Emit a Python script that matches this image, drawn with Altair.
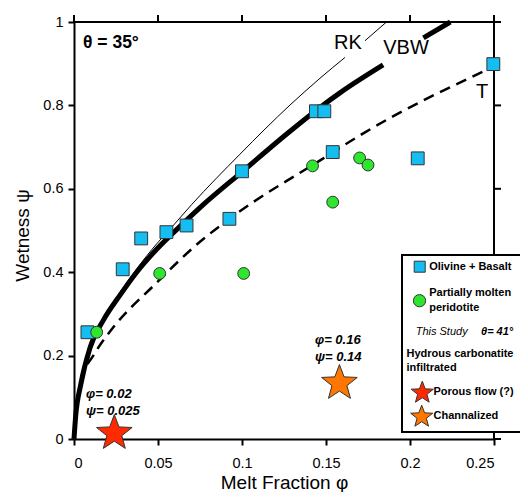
import math
import altair as alt
import pandas as pd

# ---------------- data ----------------
x_ticks = [0, 0.05, 0.1, 0.15, 0.2, 0.25]
y_ticks = [0, 0.2, 0.4, 0.6, 0.8, 1.0]

blue_phi = [0.008, 0.029, 0.040, 0.055, 0.067, 0.0925, 0.100, 0.144, 0.149, 0.154, 0.2046, 0.2496]
blue_psi = [0.256, 0.407, 0.481, 0.496, 0.512, 0.528, 0.642, 0.786, 0.786, 0.688, 0.673, 0.899]

green_phi = [0.0135, 0.051, 0.101, 0.142, 0.154, 0.170, 0.175]
green_psi = [0.256, 0.397, 0.397, 0.655, 0.568, 0.674, 0.657]

star_phi = [0.024, 0.158]
star_psi = [0.018, 0.138]
star_kind = ["Porous flow (?)", "Channalized"]

# VBW curve (two pieces, gap behind its label)
vbw_phi = [0.0, 0.001, 0.004, 0.0095, 0.0175, 0.0274, 0.0373, 0.0492, 0.0631, 0.075, 0.1004,
           0.1286, 0.1464, 0.1583, 0.184, 0.208, 0.224]
vbw_psi = [0.0, 0.055, 0.13, 0.218, 0.285, 0.345, 0.40, 0.455, 0.51, 0.555, 0.642,
           0.738, 0.795, 0.83, 0.897, 0.962, 1.0]
vbw_seg = [1] * 15 + [2] * 2

# RK curve (two pieces, gap behind its label)
rk_phi = [0.0, 0.001, 0.004, 0.0095, 0.0175, 0.0274, 0.0373, 0.0492, 0.0571, 0.070, 0.0988,
          0.1286, 0.1464, 0.1613, 0.1732, 0.186]
rk_psi = [0.0, 0.056, 0.132, 0.222, 0.29, 0.352, 0.408, 0.468, 0.503, 0.562, 0.683,
          0.801, 0.865, 0.915, 0.955, 1.0]
rk_seg = [1] * 14 + [2] * 2

# T curve (dashed)
t_phi = [0.008, 0.0115, 0.0135, 0.0234, 0.0472, 0.075, 0.0925, 0.1484, 0.1722, 0.2476]
t_psi = [0.18, 0.20, 0.213, 0.268, 0.367, 0.473, 0.528, 0.673, 0.733, 0.889]

# ---------------- styling ----------------
FONT = "Liberation Sans"
BLUE = "#14BEF0"
GREEN = "#2EE62E"
RED = "#FF2A00"
ORANGE = "#FF7600"
EDGE = "#333333"
W, H = 420, 417


def star_path(inner=0.42):
    pts = []
    for k in range(10):
        r = 1.0 if k % 2 == 0 else inner
        a = -math.pi / 2 + k * math.pi / 5
        pts.append((r * math.cos(a), r * math.sin(a) + 0.095))
    return "M" + "L".join(f"{px:.4f},{py:.4f}" for px, py in pts) + "Z"


STAR = star_path()

xs = alt.Scale(domain=[0, 0.25], nice=False, zero=False)
ys = alt.Scale(domain=[0, 1], nice=False, zero=False)

common_axis = dict(
    domainColor="black", domainWidth=2, tickColor="black", tickWidth=2,
    labelFont=FONT, labelFontSize=14.5, labelColor="black",
    titleFont=FONT, titleFontSize=19, titleFontWeight="normal", titleColor="black",
    grid=False,
)

ax_bottom = alt.Axis(orient="bottom", values=x_ticks, format="~g", tickSize=6,
                     labelPadding=18, labelBaseline="middle", title="Melt Fraction φ",
                     titleX=210, titleY=49, titleAlign="center", titleBaseline="alphabetic",
                     **common_axis)
ax_left = alt.Axis(orient="left", values=y_ticks, format="~g", tickSize=6,
                   labelPadding=5, title="Wetness ψ", titleX=-52, titleY=213,
                   titleAngle=270, titleAlign="center", titleBaseline="middle",
                   **common_axis)

curves = pd.concat([
    pd.DataFrame({"phi": vbw_phi, "psi": vbw_psi, "seg": vbw_seg, "curve": "VBW"}),
    pd.DataFrame({"phi": rk_phi, "psi": rk_psi, "seg": rk_seg, "curve": "RK"}),
    pd.DataFrame({"phi": t_phi, "psi": t_psi, "seg": 1, "curve": "T"}),
], ignore_index=True)

blue_df = pd.DataFrame({"phi": blue_phi, "psi": blue_psi})
green_df = pd.DataFrame({"phi": green_phi, "psi": green_psi})
star_df = pd.DataFrame({"phi": star_phi, "psi": star_psi, "kind": star_kind})
xtick_df = pd.DataFrame({"v": x_ticks})
ytick_df = pd.DataFrame({"v": y_ticks})

# ---- frame: top and right sides with outward ticks ----
frame_top = alt.Chart().mark_rule(color="black", strokeWidth=2).encode(
    x=alt.value(0), x2=alt.value(W), y=alt.value(0))
frame_right = alt.Chart().mark_rule(color="black", strokeWidth=2).encode(
    x=alt.value(W), y=alt.value(0), y2=alt.value(H))
top_ticks = alt.Chart(xtick_df).mark_rule(color="black", strokeWidth=2).encode(
    x=alt.X("v:Q", scale=xs, axis=None), y=alt.value(-7), y2=alt.value(0))
right_ticks = alt.Chart(ytick_df).mark_rule(color="black", strokeWidth=2).encode(
    y=alt.Y("v:Q", scale=ys, axis=None), x=alt.value(W), x2=alt.value(W + 7))

base_curves = alt.Chart(curves)

t_line = base_curves.transform_filter(alt.datum.curve == "T").mark_line(
    color="black", strokeWidth=2.5, strokeDash=[11, 7], interpolate="monotone"
).encode(
    x=alt.X("phi:Q", scale=xs, axis=ax_bottom),
    y=alt.Y("psi:Q", scale=ys, axis=ax_left),
)

rk_line = base_curves.transform_filter(alt.datum.curve == "RK").mark_line(
    color="black", strokeWidth=1, interpolate="monotone"
).encode(
    x=alt.X("phi:Q", scale=xs, axis=None),
    y=alt.Y("psi:Q", scale=ys, axis=None),
    detail="seg:N",
)

vbw_line = base_curves.transform_filter(alt.datum.curve == "VBW").mark_line(
    color="black", strokeWidth=5, interpolate="monotone"
).encode(
    x=alt.X("phi:Q", scale=xs, axis=None),
    y=alt.Y("psi:Q", scale=ys, axis=None),
    detail="seg:N",
)

blue_pts = alt.Chart(blue_df).mark_point(
    shape="square", filled=True, size=165, fill=BLUE, stroke=EDGE, strokeWidth=1, opacity=1
).encode(
    x=alt.X("phi:Q", scale=xs, axis=None),
    y=alt.Y("psi:Q", scale=ys, axis=None),
)

green_pts = alt.Chart(green_df).mark_point(
    shape="circle", filled=True, size=140, fill=GREEN, stroke=EDGE, strokeWidth=1, opacity=1
).encode(
    x=alt.X("phi:Q", scale=xs, axis=None),
    y=alt.Y("psi:Q", scale=ys, axis=None),
)

stars = alt.Chart(star_df).mark_point(
    shape=STAR, filled=True, size=1400, stroke=EDGE, strokeWidth=1, opacity=1
).encode(
    x=alt.X("phi:Q", scale=xs, axis=None),
    y=alt.Y("psi:Q", scale=ys, axis=None),
    fill=alt.Fill("kind:N", scale=alt.Scale(domain=star_kind, range=[RED, ORANGE]), legend=None),
)


def label(text, x, y, size=11.5, weight="normal", style="normal", align="left"):
    return alt.Chart().mark_text(
        font=FONT, fontSize=size, fontWeight=weight, fontStyle=style, align=align,
        baseline="middle", color="black"
    ).encode(x=alt.value(x), y=alt.value(y), text=alt.value(text))


def symbol(shape, x, y, size, fill):
    return alt.Chart().mark_point(
        shape=shape, filled=True, size=size, fill=fill, stroke=EDGE, strokeWidth=1, opacity=1
    ).encode(x=alt.value(x), y=alt.value(y))


annotations = [
    label("θ = 35°", 9, 21, size=17.5, weight="bold"),
    label("RK", 274, 21, size=20, align="center"),
    label("VBW", 332, 26, size=20, align="center"),
    label("T", 408, 70, size=20, align="center"),
    label("φ= 0.02", 12, 372, size=13, weight="bold", style="italic"),
    label("ψ= 0.025", 12, 389, size=13, weight="bold", style="italic"),
    label("φ= 0.16", 241, 318, size=13, weight="bold", style="italic"),
    label("ψ= 0.14", 241, 335, size=13, weight="bold", style="italic"),
]

legend_box = alt.Chart().mark_rect(fill="white", stroke="black", strokeWidth=2).encode(
    x=alt.value(328), x2=alt.value(480), y=alt.value(233), y2=alt.value(410)
)

legend = [
    legend_box,
    symbol("square", 345.7, 244.7, 121, BLUE),
    label("Olivine + Basalt", 355.2, 244.7, size=11, weight="bold"),
    symbol("circle", 345.5, 278.7, 150, GREEN),
    label("Partially molten", 355.2, 271.3, size=11, weight="bold"),
    label("peridotite", 355.2, 286.3, size=11, weight="bold"),
    label("This Study", 341.7, 310.3, size=11, style="italic"),
    label("θ= 41°", 407, 310.3, size=11, weight="bold", style="italic"),
    label("Hydrous carbonatite", 332.5, 332.3, size=11, weight="bold"),
    label("infiltrated", 332.5, 346.3, size=11, weight="bold"),
    symbol(STAR, 348.3, 369.7, 540, RED),
    label("Porous flow (?)", 359.5, 369.7, size=11, weight="bold"),
    symbol(STAR, 347.7, 393.7, 540, ORANGE),
    label("Channalized", 359.5, 393.7, size=11, weight="bold"),
]

chart = alt.layer(
    frame_top, frame_right, top_ticks, right_ticks,
    t_line, rk_line, vbw_line, blue_pts, green_pts, stars, *annotations, *legend
).resolve_axis(
    x="independent", y="independent"
).properties(
    width=W, height=H,
    autosize=alt.AutoSizeParams(type="none"),
    padding={"left": 66, "top": 14, "right": 26, "bottom": 53},
).configure_view(stroke=None)

chart.save("out.html", embed_options={"renderer": "svg", "actions": False})
